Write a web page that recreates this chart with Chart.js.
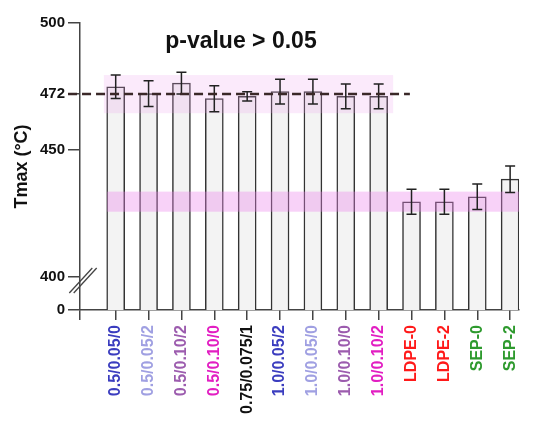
<!DOCTYPE html>
<html>
<head>
<meta charset="utf-8">
<script src="https://cdn.jsdelivr.net/npm/chart.js@4"></script>
<style>
  body { margin: 0; background: #fff; }
</style>
</head>
<body>
<canvas id="myChart" width="541" height="425"></canvas>
<script>
// Tmax per sample, mean and error
var categories = ['0.5/0.05/0', '0.5/0.05/2', '0.5/0.10/2', '0.5/0.10/0', '0.75/0.075/1',
                  '1.0/0.05/2', '1.0/0.05/0', '1.0/0.10/0', '1.0/0.10/2',
                  'LDPE-0', 'LDPE-2', 'SEP-0', 'SEP-2'];
var tmax    = [474.9, 472.2, 476.3, 470.2, 471.1, 473.0, 473.0, 471.1, 471.1, 429.6, 429.6, 431.6, 438.5];
var tmaxErr = [4.6, 5.1, 4.3, 5.1, 1.8, 4.9, 4.9, 4.9, 4.9, 4.9, 4.9, 5.0, 5.2];
var labelColors = ['#3b3dbf', '#a0a0e2', '#9c5cae', '#e21ec2', '#111111',
                   '#3b3dbf', '#a0a0e2', '#9c5cae', '#e21ec2',
                   '#ff1a1a', '#ff1a1a', '#2e9a2e', '#2e9a2e'];
var yTicks = [400, 450, 472, 500];
var refValue = 472;
var pText = 'p-value > 0.05';

// shaded ranges: [from index, to index, low, high]
var bandUpper = [-0.36, 8.44, 464.5, 479.5];
var bandLower = [-0.26, 12.4, 425.7, 433.6];

// the axis is broken below 400; "0" sits at the bottom of the axis
var yFloor = 387;
var FONT = '"Liberation Sans", Arial, Helvetica, sans-serif';

function band(ctx, xs, ys, b, color) {
    var x0 = xs.getPixelForValue(b[0]), x1 = xs.getPixelForValue(b[1]);
    var y0 = ys.getPixelForValue(b[3]), y1 = ys.getPixelForValue(b[2]);
    x1 = Math.min(x1, xs.right);
    ctx.fillStyle = color;
    ctx.fillRect(x0, y0, x1 - x0, y1 - y0);
}

var overlays = {
    id: 'overlays',
    afterDatasetsDraw: function (chart) {
        var ctx = chart.ctx, xs = chart.scales.x, ys = chart.scales.y;
        ctx.save();
        band(ctx, xs, ys, bandUpper, 'rgba(238,160,238,0.22)');
        band(ctx, xs, ys, bandLower, 'rgba(235,130,235,0.36)');

        // error bars
        ctx.strokeStyle = '#222';
        ctx.lineWidth = 1.5;
        chart.getDatasetMeta(0).data.forEach(function (bar, i) {
            var top = ys.getPixelForValue(tmax[i] + tmaxErr[i]);
            var bot = ys.getPixelForValue(tmax[i] - tmaxErr[i]);
            ctx.beginPath();
            ctx.moveTo(bar.x, top); ctx.lineTo(bar.x, bot);
            ctx.moveTo(bar.x - 5, top); ctx.lineTo(bar.x + 5, top);
            ctx.moveTo(bar.x - 5, bot); ctx.lineTo(bar.x + 5, bot);
            ctx.stroke();
        });

        // dashed reference line at 472
        var yr = ys.getPixelForValue(refValue);
        ctx.strokeStyle = '#3a2828';
        ctx.lineWidth = 2.5;
        ctx.setLineDash([9, 5]);
        ctx.beginPath();
        ctx.moveTo(xs.getPixelForValue(-1.45), yr);
        ctx.lineTo(xs.getPixelForValue(8.95), yr);
        ctx.stroke();
        ctx.setLineDash([]);

        // axis break marks
        var bx = ys.right + 3, by = ys.getPixelForValue(398.6);
        ctx.strokeStyle = '#444';
        ctx.lineWidth = 1.3;
        [-2.2, 2.2].forEach(function (d) {
            ctx.beginPath();
            ctx.moveTo(bx + d - 11.5, by + 12.5);
            ctx.lineTo(bx + d + 11.5, by - 12.5);
            ctx.stroke();
        });

        // p-value note
        ctx.fillStyle = '#111';
        ctx.font = 'bold 23px ' + FONT;
        ctx.textAlign = 'center';
        ctx.textBaseline = 'alphabetic';
        ctx.fillText(pText, xs.getPixelForValue(3.81), ys.getPixelForValue(490.3));
        ctx.restore();
    }
};

var ctx = document.getElementById('myChart').getContext('2d');
var myChart = new Chart(ctx, {
    type: 'bar',
    data: {
        datasets: [{
            data: categories.map(function (c, i) { return { x: i, y: tmax[i] }; }),
            backgroundColor: '#f3f3f3',
            borderColor: '#333',
            borderWidth: 1.5,
            barThickness: 18
        }]
    },
    options: {
        responsive: false,
        animation: false,
        layout: { padding: { top: 23, right: 22, left: 0, bottom: 0 } },
        plugins: { legend: { display: false }, tooltip: { enabled: false } },
        scales: {
            x: {
                type: 'linear',
                offset: false,
                min: -1.086,
                max: 12.27,
                grid: { display: true, offset: false, drawOnChartArea: false, drawTicks: true, tickLength: 10, color: '#444', lineWidth: 1.5 },
                border: { display: true, color: '#444', width: 1.5 },
                afterBuildTicks: function (s) {
                    s.ticks = [{ value: s.min }].concat(categories.map(function (c, i) { return { value: i }; }));
                },
                afterFit: function (s) { s.height = 115; },
                ticks: {
                    autoSkip: false,
                    minRotation: 90,
                    maxRotation: 90,
                    padding: 5,
                    font: { family: FONT, size: 16, weight: 'bold' },
                    color: function (c) { return labelColors[c.tick.value] || '#000'; },
                    callback: function (v) { return Number.isInteger(v) ? categories[v] : ''; }
                }
            },
            y: {
                min: yFloor,
                max: 500,
                grid: { display: true, drawOnChartArea: false, drawTicks: true, tickLength: 12, color: '#444', lineWidth: 1.5 },
                border: { display: true, color: '#444', width: 1.5 },
                afterBuildTicks: function (s) {
                    s.ticks = [yFloor].concat(yTicks).map(function (v) { return { value: v }; });
                },
                afterFit: function (s) { s.width = 80; },
                ticks: {
                    padding: 3,
                    color: '#111',
                    font: { family: FONT, size: 15, weight: 'bold' },
                    callback: function (v) { return v === yFloor ? '0' : String(v); }
                },
                title: {
                    display: true,
                    text: 'Tmax (°C)',
                    color: '#111',
                    font: { family: FONT, size: 18, weight: 'bold' },
                    padding: { top: 11, bottom: 0 }
                }
            }
        }
    },
    plugins: [overlays]
});
</script>
</body>
</html>
